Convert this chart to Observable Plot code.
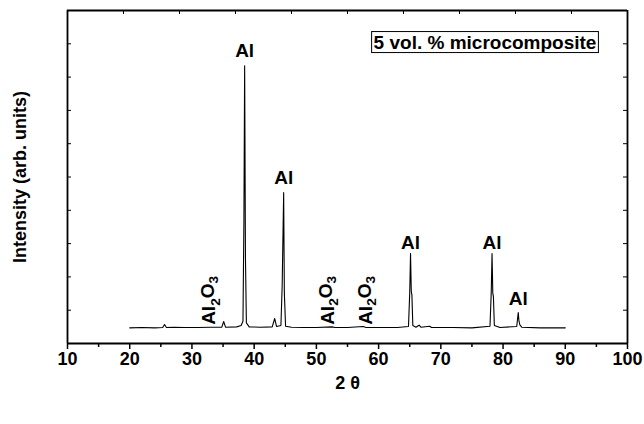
<!DOCTYPE html>
<html>
<head>
<meta charset="utf-8">
<script src="https://cdn.jsdelivr.net/npm/d3@7"></script>
<script src="https://cdn.jsdelivr.net/npm/@observablehq/plot@0.6"></script>
<style>
  html, body { margin: 0; padding: 0; background: #fff; }
  svg { font-family: "Liberation Sans", Arial, sans-serif; }
</style>
</head>
<body>
<div id="chart"></div>
<script>
// XRD pattern, 5 vol.% microcomposite
const twoTheta = [20, 22, 24, 25.3, 25.6, 25.9, 27, 29, 31, 33, 34.8, 35.1, 35.4, 37.2, 37.9, 38.2, 38.35, 38.47, 38.6, 38.75, 39.2,
  41, 42.9, 43.3, 43.6, 44.3, 44.5, 44.74, 44.85, 45.05, 46, 48, 50, 52.5, 53, 55, 57.5, 58, 60, 63, 64.8, 65.0, 65.13, 65.25, 65.35, 65.5,
  66, 66.5, 66.8, 68.2, 68.5, 72, 75, 77.9, 78.1, 78.23, 78.35, 78.45, 78.6, 79.5, 82.2, 82.44, 82.55, 82.7, 83, 86, 90];
const intensity = [4.7, 4.8, 4.7, 4.8, 5.7, 4.8, 4.9, 4.8, 4.8, 4.9, 4.9, 6.6, 4.9, 5.0, 5.4, 6.7, 36.3, 83.4, 25.8, 6.2, 5.0,
  4.9, 5.0, 7.5, 5.1, 5.4, 17.3, 45.3, 15.2, 5.2, 4.9, 4.8, 4.8, 5.0, 4.8, 4.8, 5.1, 4.8, 4.8, 4.8, 5.1, 15.2, 27.0, 15.7, 14.6, 5.4,
  4.9, 5.5, 4.9, 5.2, 4.8, 4.8, 4.7, 5.2, 15.2, 27.0, 15.2, 14.1, 5.4, 4.8, 5.1, 9.3, 6.9, 5.6, 4.9, 4.7, 4.7];

const alX = [38.47, 44.74, 65.13, 78.23, 82.44];
const alY = [88.0, 49.6, 30.3, 30.3, 13.5];
const alumX = [32.8, 51.8, 58.0];
const alumY = [5.6, 5.6, 5.6];

const xTicks = [10, 20, 30, 40, 50, 60, 70, 80, 90, 100];
const xMinor = [15, 25, 35, 45, 55, 65, 75, 85, 95];
const topTicks = [19, 28, 37, 46, 55, 64, 73, 82, 91];
const yTicks = [10, 20, 30, 40, 50, 60, 70, 80, 90];
const xEdges = [10, 100];
const yEdges = [0, 100];

const W = 644, H = 424;
const mL = 67, mR = 17, mT = 10, mB = 81;
const innerW = W - mL - mR, innerH = H - mT - mB;

const data = twoTheta.map((x, i) => ({x, y: intensity[i]}));
const alLabels = alX.map((x, i) => ({x, y: alY[i]}));
const alumLabels = alumX.map((x, i) => ({x, y: alumY[i]}));

const plot = Plot.plot({
  width: W, height: H,
  marginLeft: mL, marginRight: mR, marginTop: mT, marginBottom: mB,
  style: {fontFamily: '"Liberation Sans", Arial, sans-serif', color: "#000", background: "#fff"},
  x: {domain: [10, 100]},
  y: {domain: [0, 100], axis: null},
  marks: [
    Plot.axisX({ticks: xTicks, tickSize: 6, tickPadding: 3, fontSize: 18, fontWeight: "bold", label: null, strokeWidth: 1.5}),
    Plot.axisX({ticks: xMinor, tickSize: 4, text: null, label: null, strokeWidth: 1.5}),
    Plot.ruleX(topTicks, {x: d => d, insetBottom: innerH - 4, stroke: "#000", strokeWidth: 1}),
    Plot.ruleY(yTicks, {y: d => d, insetRight: innerW - 4, stroke: "#000", strokeWidth: 1}),
    Plot.ruleY(yTicks, {y: d => d, insetLeft: innerW - 4, stroke: "#000", strokeWidth: 1}),
    Plot.ruleX(xEdges, {x: d => d, stroke: "#000", strokeWidth: 1.8}),
    Plot.ruleY(yEdges, {y: d => d, stroke: "#000", strokeWidth: 1.8}),
    Plot.line(data, {x: "x", y: "y", stroke: "#000", strokeWidth: 1.1}),
    Plot.text(alLabels, {x: "x", y: "y", text: () => "Al", fontSize: 19, fontWeight: "bold"}),
    Plot.text(alumLabels, {x: "x", y: "y", text: () => "Al2O3", rotate: -90, textAnchor: "start", fontSize: 19, fontWeight: "bold"}),
    Plot.text(["2 θ"], {frameAnchor: "bottom", dy: 45, fontSize: 18, fontWeight: "bold"}),
    Plot.text(["Intensity (arb. units)"], {frameAnchor: "left", textAnchor: "middle", rotate: -90, dx: -47, fontSize: 18, fontWeight: "bold"}),
    Plot.text(["5 vol. % microcomposite"], {x: 77.1, y: 90.4, fontSize: 19, fontWeight: "bold"})
  ]
});

document.getElementById("chart").appendChild(plot);

const svg = d3.select(plot);
// subscripts for Al2O3
svg.selectAll("text").filter(function() { return this.textContent === "Al2O3"; }).each(function() {
  const t = d3.select(this);
  t.text(null);
  t.append("tspan").text("Al");
  t.append("tspan").attr("font-size", "0.72em").attr("dy", "0.3em").text("2");
  t.append("tspan").attr("dy", "-0.3em").text("O");
  t.append("tspan").attr("font-size", "0.72em").attr("dy", "0.3em").text("3");
});
// box around the sample label
svg.selectAll("text").filter(function() { return this.textContent === "5 vol. % microcomposite"; }).each(function() {
  const b = this.getBBox();
  d3.select(this.parentNode).insert("rect", () => this)
    .attr("transform", this.getAttribute("transform"))
    .attr("x", b.x - 2).attr("y", b.y).attr("width", b.width + 4).attr("height", b.height)
    .attr("fill", "#fff").attr("stroke", "#000").attr("stroke-width", 1);
});
</script>
</body>
</html>
